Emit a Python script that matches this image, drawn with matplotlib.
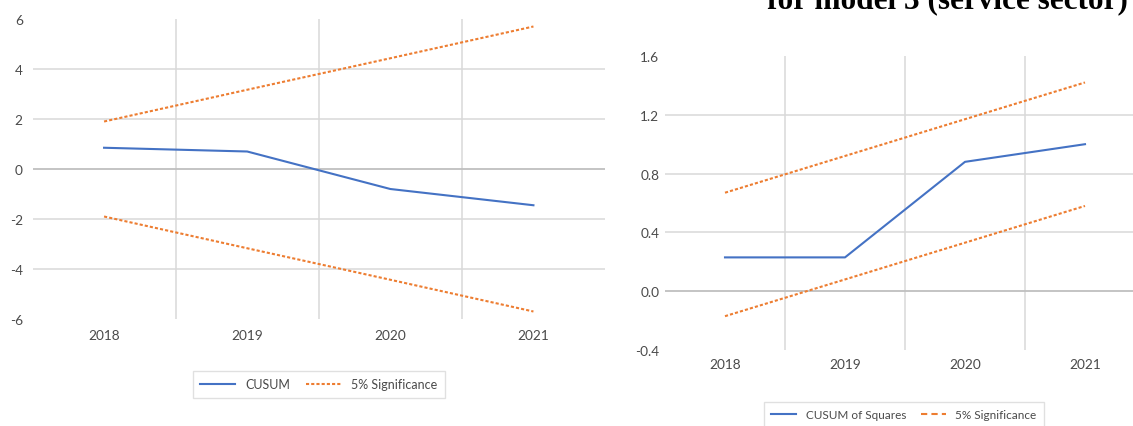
import numpy as np
import matplotlib
matplotlib.use("Agg")
import matplotlib.pyplot as plt
from matplotlib.lines import Line2D

# data
years = ['2018', '2019', '2020', '2021']
cusum = [0.85, 0.7, -0.8, -1.45]
cusum_upper = [1.9, 3.17, 4.43, 5.7]
cusum_lower = [-1.9, -3.17, -4.43, -5.7]

cusumsq = [0.23, 0.23, 0.88, 1.0]
cusumsq_upper = [0.67, 0.92, 1.17, 1.42]
cusumsq_lower = [-0.17, 0.08, 0.33, 0.58]

left_ticks = [6, 4, 2, 0, -2, -4, -6]
right_ticks = [1.6, 1.2, 0.8, 0.4, 0.0, -0.4]

blue = '#4472C4'
orange = '#ED7D31'
grid = '#d9d9d9'
zero = '#bfbfbf'
txt = '#4a4a4a'
dots = (0, (1.5, 1.0))

plt.rcParams['font.family'] = ['Lato', 'DejaVu Sans']

fig = plt.figure(figsize=(11.33, 4.27), dpi=100)
W, H = 1133, 427

def axes_px(x0, x1, y0, y1):
    # pixel box (top-left origin) -> figure fraction
    return fig.add_axes([x0 / W, 1 - y1 / H, (x1 - x0) / W, (y1 - y0) / H])

def style(ax, ticks, fmt, ypad, xpad):
    x = np.arange(len(years))
    ax.set_xlim(-0.5, len(years) - 0.5)
    ax.set_ylim(min(ticks), max(ticks))
    ax.set_xticks(x)
    ax.set_xticklabels(years)
    ax.set_yticks(ticks)
    ax.set_yticklabels([fmt.format(t) for t in ticks])
    ax.tick_params(length=0, colors=txt, labelsize=9.8)
    ax.tick_params(axis='y', pad=ypad)
    ax.tick_params(axis='x', pad=xpad)
    for s in ax.spines.values():
        s.set_visible(False)
    # gridlines: between categories vertically, inner ticks horizontally
    for xv in x[:-1] + 0.5:
        ax.axvline(xv, color=grid, lw=1.1, zorder=0)
    for t in ticks[1:-1]:
        ax.axhline(t, color=zero if t == 0 else grid, lw=1.1 if t != 0 else 1.3, zorder=0)

# left panel: CUSUM
ax1 = axes_px(32.5, 605, 20, 320)
x = np.arange(len(years))
ax1.plot(x, cusum, color=blue, lw=1.5, label='CUSUM')
ax1.plot(x, cusum_upper, color=orange, lw=1.5, ls=dots, label='5% Significance')
ax1.plot(x, cusum_lower, color=orange, lw=1.5, ls=dots)
style(ax1, left_ticks, '{:g}', 7, 7)

# right panel: CUSUM of squares (cut off on the right)
ax2 = axes_px(665, 1145, 57, 351)
ax2.plot(x, cusumsq, color=blue, lw=1.5)
ax2.plot(x, cusumsq_upper, color=orange, lw=1.5, ls=dots)
ax2.plot(x, cusumsq_lower, color=orange, lw=1.5, ls=dots)
style(ax2, right_ticks, '{:.1f}', 4, 6)

# legends
h1 = [Line2D([0], [0], color=blue, lw=1.5),
      Line2D([0], [0], color=orange, lw=1.5, ls=dots)]
fig.legend(h1, ['CUSUM', '5% Significance'], loc='center',
           bbox_to_anchor=(319 / W, 1 - 385 / H), ncol=2, frameon=True,
           fancybox=False, edgecolor=grid, fontsize=9, labelcolor=txt,
           handlelength=2.8, columnspacing=1.3, borderpad=0.6)

h2 = [Line2D([0], [0], color=blue, lw=1.5),
      Line2D([0], [0], color=orange, lw=1.5, ls=(0, (3, 2)))]
fig.legend(h2, ['CUSUM of Squares', '5% Significance'], loc='center',
           bbox_to_anchor=(904 / W, 1 - 416 / H), ncol=2, frameon=True,
           fancybox=False, edgecolor=grid, fontsize=8.5, labelcolor=txt,
           handlelength=2.1, columnspacing=1.3, borderpad=0.6)

# title of the figure above, mostly cut off as in the source image
fig.text(1128 / W, 1 - 8 / H, 'for model 3 (service sector)', ha='right',
         va='baseline', fontsize=22.5, fontweight='bold',
         family=['Liberation Serif', 'DejaVu Serif'], color='black')

fig.savefig('out.png', dpi=100)
